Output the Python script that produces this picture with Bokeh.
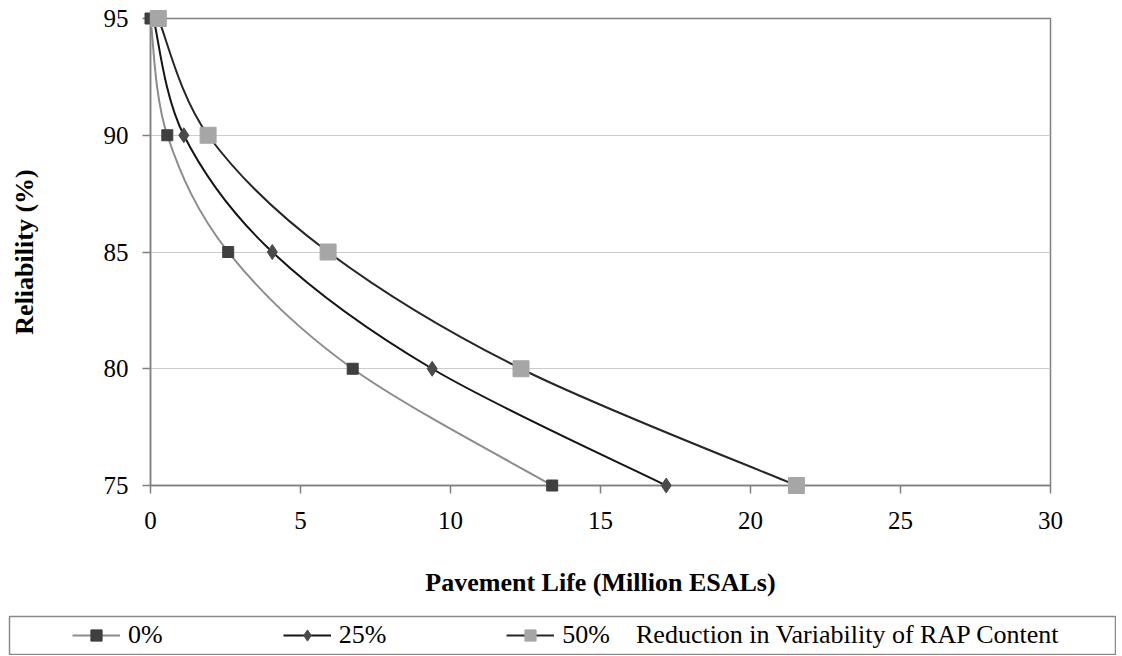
from bokeh.plotting import figure
from bokeh.models import Range1d, FixedTicker, Legend, LegendItem
from bokeh.embed import file_html
from bokeh.resources import INLINE

# ---- data ----
reliability = [95, 90, 85, 80, 75]
life_0 = [0.0, 0.56, 2.59, 6.74, 13.39]
life_25 = [0.1, 1.11, 4.06, 9.39, 17.19]
life_50 = [0.26, 1.92, 5.92, 12.35, 21.53]
series_labels = ["0%", "25%", "50%\u00a0\u00a0\u00a0\u00a0Reduction in Variability of RAP Content"]
x_ticks = [0, 5, 10, 15, 20, 25, 30]
y_ticks = [75, 80, 85, 90, 95]

FONT = "'Liberation Serif', 'Times New Roman', serif"


def smooth_segments(xs, ys):
    """Catmull-Rom style Bezier control points (Excel 'smoothed line')."""
    n = len(xs)
    out = dict(x0=[], y0=[], x1=[], y1=[], cx0=[], cy0=[], cx1=[], cy1=[])
    for i in range(n - 1):
        xp, yp = (xs[i - 1], ys[i - 1]) if i > 0 else (xs[i], ys[i])
        xn, yn = (xs[i + 2], ys[i + 2]) if i + 2 < n else (xs[i + 1], ys[i + 1])
        out["x0"].append(xs[i]); out["y0"].append(ys[i])
        out["x1"].append(xs[i + 1]); out["y1"].append(ys[i + 1])
        out["cx0"].append(xs[i] + (xs[i + 1] - xp) / 6.0)
        out["cy0"].append(ys[i] + (ys[i + 1] - yp) / 6.0)
        out["cx1"].append(xs[i + 1] - (xn - xs[i]) / 6.0)
        out["cy1"].append(ys[i + 1] - (yn - ys[i]) / 6.0)
    return out


styles = [
    dict(line="#8c8c8c", marker="square", mcolor="#3f3f3f", size=11),
    dict(line="#141414", marker="diamond", mcolor="#4a4a4a", size=15),
    dict(line="#262626", marker="square", mcolor="#a6a6a6", size=16),
]
series = [life_0, life_25, life_50]

p = figure(width=1122, height=615, output_backend="svg", toolbar_location=None,
           x_range=Range1d(0, 30), y_range=Range1d(75, 95),
           min_border_left=150, min_border_right=72,
           min_border_top=18, min_border_bottom=130)
p.background_fill_color = "white"
p.border_fill_color = "white"
p.outline_line_color = "#808080"
p.outline_line_width = 1.5

for xs, st in zip(series, styles):
    seg = smooth_segments(xs, reliability)
    p.bezier(x0=seg["x0"], y0=seg["y0"], x1=seg["x1"], y1=seg["y1"],
             cx0=seg["cx0"], cy0=seg["cy0"], cx1=seg["cx1"], cy1=seg["cy1"],
             line_color=st["line"], line_width=2)
    p.scatter(xs, reliability, marker=st["marker"], size=st["size"],
              fill_color=st["mcolor"], line_color=st["mcolor"], level="overlay")

p.xgrid.grid_line_color = None
p.ygrid.grid_line_color = "#cccccc"
p.ygrid.grid_line_width = 1

p.xaxis.ticker = FixedTicker(ticks=x_ticks)
p.yaxis.ticker = FixedTicker(ticks=y_ticks)
for ax in (p.xaxis, p.yaxis):
    ax.axis_line_color = "#808080"
    ax.axis_line_width = 1.5
    ax.major_tick_line_color = "#808080"
    ax.major_tick_line_width = 1.5
    ax.major_tick_out = 8
    ax.major_tick_in = 0
    ax.minor_tick_line_color = None
    ax.major_label_text_font = FONT
    ax.major_label_text_font_size = "25px"
    ax.major_label_text_color = "black"
    ax.axis_label_text_font = FONT
    ax.axis_label_text_font_style = "bold"
    ax.axis_label_text_font_size = "26px"
    ax.axis_label_text_color = "black"

p.xaxis.axis_label = "Pavement Life (Million ESALs)"
p.yaxis.axis_label = "Reliability (%)"
p.xaxis.major_label_standoff = 18
p.yaxis.major_label_standoff = 14
p.xaxis.axis_label_standoff = 36
p.yaxis.axis_label_standoff = 62

# ---- legend box (separate root strip below the chart) ----
lg = figure(width=1116, height=40, output_backend="svg", toolbar_location=None,
            x_range=Range1d(0, 1), y_range=Range1d(0, 1),
            min_border_left=9, min_border_right=1,
            min_border_top=1, min_border_bottom=1)
lg.axis.visible = False
lg.grid.visible = False
lg.outline_line_color = "#8a8a8a"
lg.outline_line_width = 1.5
lg.background_fill_color = "white"
lg.border_fill_color = "white"

items = []
for xs, label, st in zip(series, series_labels, styles):
    # same series, outside this strip's ranges: only their legend swatches show
    r1 = lg.line(xs, reliability, line_color=st["line"], line_width=2)
    r2 = lg.scatter(xs, reliability, marker=st["marker"], size=st["size"],
                    fill_color=st["mcolor"], line_color=st["mcolor"])
    items.append(LegendItem(label=label, renderers=[r1, r2]))

legend = Legend(items=items, orientation="horizontal", location="left",
                margin=61, padding=2, spacing=120, glyph_width=48, glyph_height=28,
                label_standoff=8, label_text_font=FONT, label_text_font_size="26px",
                label_text_color="black", border_line_alpha=0, background_fill_alpha=0)
lg.add_layout(legend)

open("out.html", "w").write(file_html([p, lg], INLINE))
